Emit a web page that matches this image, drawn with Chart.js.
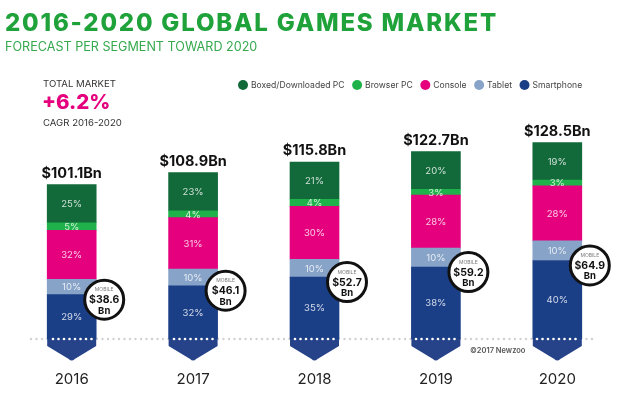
<!DOCTYPE html>
<html>
<head>
<meta charset="utf-8">
<script src="https://cdn.jsdelivr.net/npm/chart.js@4.4.1/dist/chart.umd.min.js"></script>
<style>
  body { margin: 0; background: #fff; }
  #wrap { position: relative; width: 624px; height: 396px; font-family: Inter, "Open Sans", sans-serif; }
  #wrap canvas { position: absolute; left: 0; top: 0; }
  .txt { position: absolute; white-space: nowrap; line-height: 1; }
</style>
</head>
<body>
<div id="wrap">
  <canvas id="gamesMarket" width="624" height="396"></canvas>
  <div class="txt" style="left:5px;top:11px;font-size:24px;font-weight:800;color:#1fa23a;letter-spacing:1.8px">2016-2020 GLOBAL GAMES MARKET</div>
  <div class="txt" style="left:5px;top:41px;font-size:12.6px;font-weight:400;color:#36a94f;letter-spacing:0px">FORECAST PER SEGMENT TOWARD 2020</div>
  <div class="txt" style="left:43px;top:79px;font-size:9.6px;color:#333">TOTAL MARKET</div>
  <div class="txt" style="left:42px;top:92px;font-size:20.5px;font-weight:800;color:#e5007e">+6.2%</div>
  <div class="txt" style="left:43px;top:118px;font-size:9.6px;color:#333">CAGR 2016-2020</div>
</div>
<script>
var years = ['2016', '2017', '2018', '2019', '2020'];
var totals = [101.1, 108.9, 115.8, 122.7, 128.5];
var mobileTotals = [38.6, 46.1, 52.7, 59.2, 64.9];

// share of each segment, in %
var smartphonePct = [29, 32, 35, 38, 40];
var tabletPct = [10, 10, 10, 10, 10];
var consolePct = [32, 31, 30, 28, 28];
var browserPct = [5, 4, 4, 3, 3];
var boxedPct = [25, 23, 21, 20, 19];

var allPct = [smartphonePct, tabletPct, consolePct, browserPct, boxedPct];

// turn shares into $Bn so the stack adds up to the total
function toBn(pct) {
  return pct.map(function (p, i) {
    var sum = 0;
    allPct.forEach(function (s) { sum += s[i]; });
    return totals[i] * p / sum;
  });
}

var decor = {
  id: 'decor',
  beforeDatasetsDraw: function (chart) {
    var c = chart.ctx;
    var base = chart.scales.y.getPixelForValue(0);
    c.save();
    c.fillStyle = '#d0d0d0';
    for (var x = 31; x <= 594; x += 5.5) {
      c.beginPath(); c.arc(x, base, 1.2, 0, Math.PI * 2); c.fill();
    }
    c.restore();
  },
  afterDatasetsDraw: function (chart) {
    var c = chart.ctx;
    var base = chart.scales.y.getPixelForValue(0);
    var bars = chart.getDatasetMeta(0).data;
    c.save();

    // chevrons + white dots
    bars.forEach(function (bar) {
      var l = bar.x - bar.width / 2, r = bar.x + bar.width / 2;
      c.fillStyle = '#26438a';
      c.beginPath();
      c.moveTo(l, base); c.lineTo(r, base); c.lineTo(r, base + 7);
      c.lineTo(bar.x + 3, base + 20);
      c.quadraticCurveTo(bar.x, base + 23, bar.x - 3, base + 20);
      c.lineTo(l, base + 7); c.closePath(); c.fill();
      c.fillStyle = '#fff';
      for (var x = 31; x <= 594; x += 5.5) {
        if (x > l + 2 && x < r - 2) { c.beginPath(); c.arc(x, base, 1.3, 0, Math.PI * 2); c.fill(); }
      }
    });

    // percent labels
    c.font = '9.5px Inter';
    c.textAlign = 'center';
    c.textBaseline = 'middle';
    c.fillStyle = 'rgba(255,255,255,0.8)';
    chart.data.datasets.forEach(function (ds, di) {
      chart.getDatasetMeta(di).data.forEach(function (el, i) {
        c.fillText(ds.pct[i] + '%', el.x, (el.y + el.base) / 2 + 0.5);
      });
    });

    // totals on top
    var topBars = chart.getDatasetMeta(chart.data.datasets.length - 1).data;
    c.font = 'bold 14.5px Inter';
    c.fillStyle = '#111';
    c.textBaseline = 'alphabetic';
    topBars.forEach(function (el, i) {
      c.fillText('$' + totals[i].toFixed(1) + 'Bn', el.x, el.y - 7);
    });

    // mobile badges
    var tab = chart.getDatasetMeta(1).data;
    tab.forEach(function (el, i) {
      var cx = el.x + 32.5, cy = el.base + 5;
      c.beginPath(); c.arc(cx, cy, 19.5, 0, Math.PI * 2);
      c.fillStyle = '#fff'; c.fill();
      c.lineWidth = 3; c.strokeStyle = '#111'; c.stroke();
      c.textBaseline = 'middle';
      c.fillStyle = '#777'; c.font = '5px Inter';
      c.fillText('MOBILE', cx, cy - 10);
      c.fillStyle = '#111'; c.font = 'bold 10.5px Inter';
      c.fillText('$' + mobileTotals[i].toFixed(1), cx, cy + 0.5);
      c.font = 'bold 9.5px Inter';
      c.fillText('Bn', cx, cy + 11);
    });

    // year labels
    var xs = chart.scales.x;
    c.font = '15px Inter';
    c.fillStyle = '#222';
    chart.data.labels.forEach(function (lab, i) {
      c.fillText(lab, xs.getPixelForValue(i), 379);
    });

    // legend
    c.font = '8.6px Inter';
    c.textAlign = 'left';
    var lx = 243;
    for (var d = chart.data.datasets.length - 1; d >= 0; d--) {
      var ds = chart.data.datasets[d];
      c.fillStyle = ds.backgroundColor;
      c.beginPath(); c.arc(lx, 85, 5, 0, Math.PI * 2); c.fill();
      c.fillStyle = '#444';
      c.fillText(ds.label, lx + 8, 85.5);
      lx += 8 + c.measureText(ds.label).width + 12.5;
    }

    c.font = '600 7.5px Inter';
    c.fillStyle = '#555';
    c.fillText('\u00a92017 Newzoo', 470, 351);
    c.restore();
  }
};

var ctx = document.getElementById('gamesMarket').getContext('2d');
var gamesMarket = new Chart(ctx, {
  type: 'bar',
  data: {
    labels: years,
    datasets: [
      { label: 'Smartphone', data: toBn(smartphonePct), pct: smartphonePct, backgroundColor: '#1b3f87' },
      { label: 'Tablet', data: toBn(tabletPct), pct: tabletPct, backgroundColor: '#87a3c8' },
      { label: 'Console', data: toBn(consolePct), pct: consolePct, backgroundColor: '#e5007e' },
      { label: 'Browser PC', data: toBn(browserPct), pct: browserPct, backgroundColor: '#1fb24a' },
      { label: 'Boxed/Downloaded PC', data: toBn(boxedPct), pct: boxedPct, backgroundColor: '#12693a' }
    ]
  },
  options: {
    responsive: false,
    animation: false,
    layout: { padding: { left: 11, right: 6, top: 64, bottom: 57 } },
    datasets: { bar: { barThickness: 49, borderWidth: 0 } },
    plugins: { legend: { display: false }, tooltip: { enabled: false } },
    scales: {
      x: { stacked: true, display: false },
      y: { stacked: true, display: false, min: 0, max: 180 }
    }
  },
  plugins: [decor]
});
</script>
</body>
</html>
